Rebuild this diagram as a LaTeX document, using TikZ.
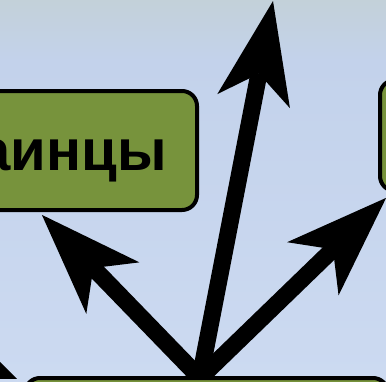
\documentclass[tikz,border=0pt]{standalone}
\usepackage{fontspec}
\setmainfont{Liberation Sans}
\usetikzlibrary{arrows.meta}
\definecolor{bgtop}{HTML}{C3D1D9}
\definecolor{bgmid}{HTML}{C3D2EB}
\definecolor{bgbot}{HTML}{CCDAF1}
\definecolor{boxgreen}{HTML}{77933C}
\tikzset{
  greenbox/.style={draw=black, line width=4pt, fill=boxgreen, rounded corners=15pt, inner sep=0pt},
  bigarrow/.style={line width=17pt, -{Stealth[length=102pt, width=74pt, inset=28pt, line width=0pt]}},
}

\begin{document}
\begin{tikzpicture}[x=1pt, y=-1pt]
    \useasboundingbox (0,0) rectangle (386,381);
    % background
    \shade[top color=bgtop, bottom color=bgmid] (0,0) rectangle (386,60);
    \shade[top color=bgmid, bottom color=bgbot] (0,60) rectangle (386,381);
    % boxes
    \node (leftbox) [greenbox, minimum width=435pt, minimum height=119pt] at (-20.5,150.5) {};
    \node (lefttext) [anchor=base east, inner sep=0pt, font=\fontsize{58}{62}\selectfont\bfseries] at (167,170) {аинцы};
    \node (rightbox) [greenbox, minimum width=141pt, minimum height=111pt] at (450.5,135.5) {};
    \coordinate (src) at (200,378);
    \coordinate (up) at (273,1);
    \coordinate (lowstart) at (20,394);
    \coordinate (lowend) at (-100,274);
    % arrows
    \draw[bigarrow, shorten >=4pt] (src) -- (leftbox);
    \draw[bigarrow] (src) -- (up);
    \draw[bigarrow, shorten >=7pt] (src) -- (rightbox);
    \begin{scope}
        \clip (0,0) rectangle (386,378);
        \draw[bigarrow] (lowstart) -- (lowend);
    \end{scope}
    \node (basebox) [greenbox, minimum width=363pt, minimum height=80pt] at (206.5,418) {};
\end{tikzpicture}
\end{document}
